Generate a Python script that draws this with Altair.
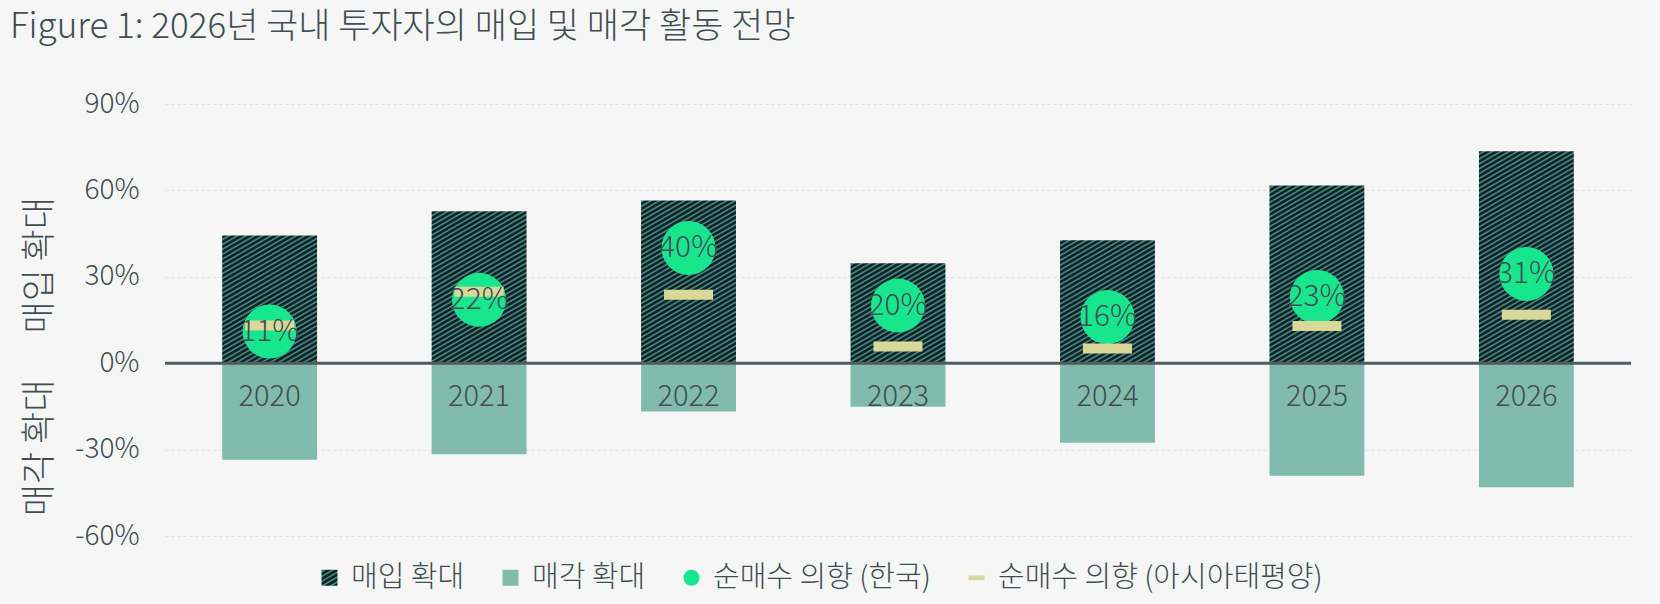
import altair as alt
import pandas as pd
import jinja2

# ---------------- data ----------------
years = ["2020", "2021", "2022", "2023", "2024", "2025", "2026"]
buy_expansion = [44.3, 52.8, 56.5, 34.7, 42.7, 61.7, 73.6]
sell_expansion = [-33.5, -31.6, -16.8, -15.1, -27.6, -39.1, -43.1]
net_buy_korea = [11, 22, 40, 20, 16, 23, 31]
net_buy_apac = [13.1, 24.8, 23.8, 5.8, 5.1, 12.9, 16.8]
y_ticks = [-60, -30, 0, 30, 60, 90]

series_names = ["매입 확대", "매각 확대", "순매수 의향 (한국)", "순매수 의향 (아시아태평양)"]
title_text = "Figure 1: 2026년 국내 투자자의 매입 및 매각 활동 전망"

# ---------------- styles ----------------
FONT = "Noto Sans CJK KR"
W = 300
TXT = "#414d51"
series_fill = ["url(#hatch) #234a4b", "#82BBAD", "#18E68F", "#D9D899"]
series_shape = ["square", "square", "circle", "M-1,-0.3H1V0.3H-1Z"]

bars_df = pd.DataFrame({
    "year": years * 2,
    "series": [series_names[0]] * len(years) + [series_names[1]] * len(years),
    "value": buy_expansion + sell_expansion,
})
pts_df = pd.DataFrame({
    "year": years,
    "korea": net_buy_korea,
    "apac": net_buy_apac,
    "label": [f"{v}%" for v in net_buy_korea],
    "s_kr": series_names[2],
    "s_ap": series_names[3],
})

x_enc = alt.X("year:N", scale=alt.Scale(domain=years, paddingInner=0.547, paddingOuter=0.273), axis=None)
y_scale = alt.Scale(domain=[-60, 90], nice=False, zero=False)
fill_scale = alt.Scale(domain=series_names, range=series_fill)
shape_scale = alt.Scale(domain=series_names, range=series_shape)
legend = alt.Legend(
    title=None, orient="none", legendX=150, legendY=459, direction="horizontal",
    labelFontSize=29, labelColor=TXT, labelFont=FONT, labelFontWeight=W, labelOffset=7,
    symbolSize=256, symbolStrokeWidth=0, symbolOpacity=1, columnPadding=31, padding=0,
    labelLimit=0,
)

bars = alt.Chart(bars_df).mark_bar(opacity=1).encode(
    x=x_enc,
    y=alt.Y("value:Q", scale=y_scale, stack=None, title=None,
            axis=alt.Axis(values=y_ticks, labelExpr="datum.value + '%'", domain=False, ticks=False,
                          labelPadding=26, labelFontSize=28, labelColor=TXT, labelFont=FONT,
                          labelFontWeight=W,
                          grid=True, gridDash=[3, 3], gridColor="#e2e2e2", gridWidth=1)),
    fill=alt.Fill("series:N", scale=fill_scale, legend=legend),
)

zero_rule = alt.Chart(pd.DataFrame({"z": [0]})).mark_rule(color="#4d5c5e", strokeWidth=3).encode(
    y=alt.Y("z:Q", scale=y_scale)
)

circles = alt.Chart(pts_df).mark_point(filled=True, size=2920, opacity=1, strokeWidth=0).encode(
    x=x_enc,
    y=alt.Y("korea:Q", scale=y_scale),
    fill=alt.Fill("s_kr:N", scale=fill_scale, legend=legend),
    shape=alt.Shape("s_kr:N", scale=shape_scale, legend=legend),
)

ticks = alt.Chart(pts_df).mark_tick(size=49, thickness=10, opacity=1).encode(
    x=x_enc,
    y=alt.Y("apac:Q", scale=y_scale),
    fill=alt.Fill("s_ap:N", scale=fill_scale, legend=legend),
)

circle_text = alt.Chart(pts_df).mark_text(fontSize=30, color=TXT, font=FONT, fontWeight=W,
                                           baseline="middle").encode(
    x=x_enc,
    y=alt.Y("korea:Q", scale=y_scale),
    text="label:N",
)

year_text = alt.Chart(pts_df).mark_text(fontSize=29, color=TXT, font=FONT, fontWeight=W,
                                         baseline="middle", dy=34).encode(
    x=x_enc,
    y=alt.datum(0, scale=y_scale),
    text="year:N",
)

side_buy = alt.Chart(pd.DataFrame({"t": [series_names[0]]})).mark_text(
    fontSize=35, color=TXT, font=FONT, fontWeight=W, angle=270, baseline="middle", align="center"
).encode(x=alt.value(-125), y=alt.datum(34), text="t:N")

side_sell = alt.Chart(pd.DataFrame({"t": [series_names[1]]})).mark_text(
    fontSize=35, color=TXT, font=FONT, fontWeight=W, angle=270, baseline="middle", align="center"
).encode(x=alt.value(-125), y=alt.datum(-29.4), text="t:N")

chart = alt.layer(
    bars, zero_rule, circles, ticks, circle_text, year_text, side_buy, side_sell
).resolve_scale(fill="shared", shape="shared").properties(
    width=1466,
    height=432,
    autosize=alt.AutoSizeParams(type="none"),
    padding={"left": 157, "top": 96, "right": 21, "bottom": 58},
    title=alt.Title(title_text, anchor="start", frame="group", dx=-155, offset=45,
                    fontSize=35, font=FONT, color=TXT, fontWeight=W),
).configure(background="#f6f6f6").configure_view(stroke=None)

PAGE = jinja2.Template("""<!DOCTYPE html>
<html>
<head>
  <meta charset="utf-8">
  <style>
    body { background: #f6f6f6; }
    #{{ output_div }}.vega-embed { width: 100%; display: flex; }
    #{{ output_div }}.vega-embed details,
    #{{ output_div }}.vega-embed details summary { position: relative; }
  </style>
  <script type="text/javascript" src="{{ base_url }}/vega@{{ vega_version }}"></script>
  <script type="text/javascript" src="{{ base_url }}/vega-lite@{{ vegalite_version }}"></script>
  <script type="text/javascript" src="{{ base_url }}/vega-embed@{{ vegaembed_version }}"></script>
</head>
<body>
  <svg width="0" height="0" style="position:absolute" aria-hidden="true">
    <defs>
      <pattern id="hatch" patternUnits="userSpaceOnUse" width="4.2" height="4.2" patternTransform="rotate(-30)">
        <rect x="0" y="0" width="4.2" height="4.2" fill="#4d7f7d"></rect>
        <rect x="0" y="0" width="4.2" height="2.5" fill="#072628"></rect>
      </pattern>
    </defs>
  </svg>
  <div id="{{ output_div }}"></div>
  <script>
    (function(vegaEmbed) {
      var spec = {{ spec }};
      var embedOpt = {{ embed_options }};
      function showError(el, error) {
        el.innerHTML = '<div style="color:red;"><p>JavaScript Error: ' + error.message + '</p></div>';
        throw error;
      }
      const el = document.getElementById('{{ output_div }}');
      vegaEmbed("#{{ output_div }}", spec, embedOpt).catch(error => showError(el, error));
    })(vegaEmbed);
  </script>
</body>
</html>
""")

try:
    chart.save("out.html", embed_options={"renderer": "svg", "actions": False}, template=PAGE)
except Exception:
    chart.save("out.html", embed_options={"renderer": "svg", "actions": False})
